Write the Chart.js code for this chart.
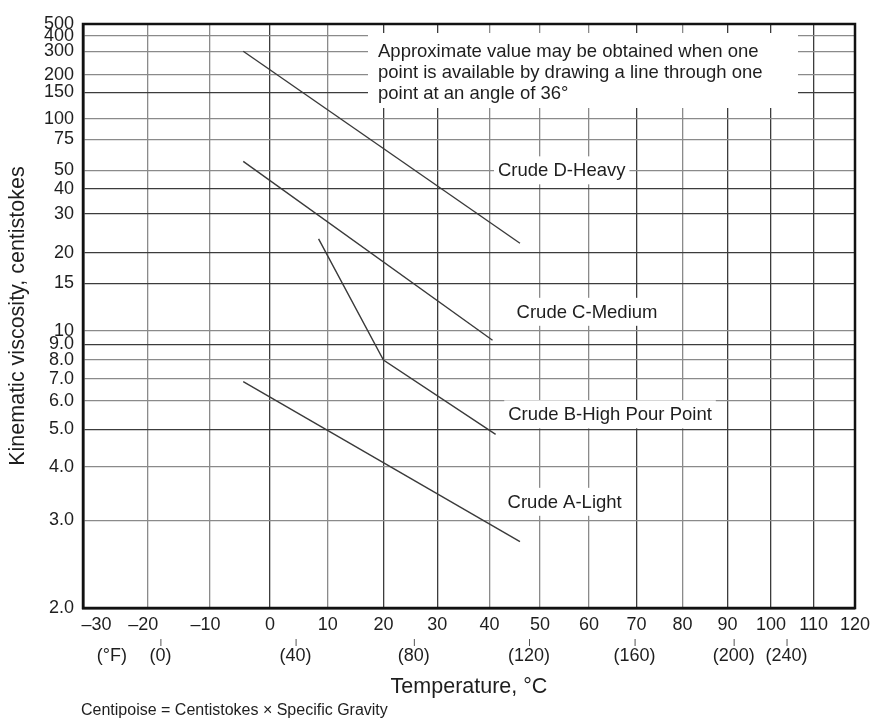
<!DOCTYPE html>
<html>
<head>
<meta charset="utf-8">
<title>Viscosity vs temperature</title>
<script src="https://cdn.jsdelivr.net/npm/chart.js@4/dist/chart.umd.min.js"></script>
<style>
  html, body { margin: 0; padding: 0; background: #fff; }
  canvas { display: block; }
</style>
</head>
<body>
<canvas id="myChart" width="871" height="720"></canvas>
<script>
// axis ticks (deg C on x, centistokes on y)
const tempTicks = [-30, -20, -10, 0, 10, 20, 30, 40, 50, 60, 70, 80, 90, 100, 110, 120];
const tempTickLabels = ['\u201330', '\u201320', '\u201310', '0', '10', '20', '30', '40', '50', '60', '70', '80', '90', '100', '110', '120'];
const viscTicks = [2, 3, 4, 5, 6, 7, 8, 9, 10, 15, 20, 30, 40, 50, 75, 100, 150, 200, 300, 400, 500];
const viscTickLabels = ['2.0', '3.0', '4.0', '5.0', '6.0', '7.0', '8.0', '9.0', '10', '15', '20', '30', '40', '50', '75', '100', '150', '200', '300', '400', '500'];

// secondary fahrenheit row, placed at the deg C spots they sit on in the chart
const fahrenheitLabels = ['(\u00b0F)', '(0)', '(40)', '(80)', '(120)', '(160)', '(200)', '(240)'];
const fahrenheitAtC = [-25.6, -18, 4.4, 25.6, 47.8, 69.6, 91.4, 103.6];

// crude oil curves: temperature (deg C) and kinematic viscosity (cSt)
const crudeDTemp = [-4.5, 46];
const crudeDVisc = [300, 22];
const crudeCTemp = [-4.5, 40.6];
const crudeCVisc = [56, 9.3];
const crudeBTemp = [8.4, 20, 41.2];
const crudeBVisc = [23, 8.0, 4.85];
const crudeATemp = [-4.5, 46];
const crudeAVisc = [6.85, 2.7];

// curve labels and where they sit (deg C, cSt)
const crudeLabels = ['Crude D-Heavy', 'Crude C-Medium', 'Crude B-High Pour Point', 'Crude A-Light'];
const labelTemp = [54.4, 59.6, 64.4, 55];
const labelVisc = [50, 11.7, 5.5, 3.3];

const noteLines = [
  'Approximate value may be obtained when one',
  'point is available by drawing a line through one',
  'point at an angle of 36\u00b0'
];

// ASTM style axes: log of absolute temperature, log-log of viscosity
const tx = t => Math.log10(t + 273.15);
const ty = v => Math.log10(Math.log10(v + 0.7));

const FONT = '"Liberation Sans", Arial, Helvetica, sans-serif';
const INK = '#1e1e1e';
const EN = '\u2002';

// minus signs hang left of the grid line, first label starts at the frame
const xLabel = (i) => {
  const t = tempTicks[i], txt = tempTickLabels[i];
  if (i === 0) return EN + EN + EN + txt;
  return t < 0 ? txt + EN : txt;
};

const toPoints = (temps, viscs) => temps.map((t, i) => ({ x: tx(t), y: ty(viscs[i]) }));

const lineStyle = {
  showLine: true,
  borderColor: '#3a3a3a',
  borderWidth: 1.4,
  pointRadius: 0,
  tension: 0,
  fill: false
};

const data = {
  datasets: [
    { label: crudeLabels[0], data: toPoints(crudeDTemp, crudeDVisc), ...lineStyle },
    { label: crudeLabels[1], data: toPoints(crudeCTemp, crudeCVisc), ...lineStyle },
    { label: crudeLabels[2], data: toPoints(crudeBTemp, crudeBVisc), ...lineStyle },
    { label: crudeLabels[3], data: toPoints(crudeATemp, crudeAVisc), ...lineStyle }
  ]
};

const darkX = [0, 20, 30, 70, 90, 100, 110];
const darkY = [5, 9, 15, 20, 30, 40, 150];

// white boxed labels, note, frame, fahrenheit row and footnote
const annotations = {
  id: 'annotations',
  beforeDatasetsDraw(chart) {
    const { ctx, chartArea: { left, top }, scales: { x, y } } = chart;
    ctx.save();

    // note box
    const nx = left + 285, ny = top + 9;
    ctx.fillStyle = '#fff';
    ctx.fillRect(nx, ny, 430, 75);
    ctx.fillStyle = INK;
    ctx.font = '18.5px ' + FONT;
    ctx.textAlign = 'left';
    ctx.textBaseline = 'middle';
    noteLines.forEach((line, i) => ctx.fillText(line, nx + 10, ny + 19 + i * 21));

    // curve labels
    ctx.textAlign = 'center';
    crudeLabels.forEach((txt, i) => {
      const px = x.getPixelForValue(tx(labelTemp[i]));
      const py = y.getPixelForValue(ty(labelVisc[i]));
      const w = ctx.measureText(txt).width;
      ctx.fillStyle = '#fff';
      ctx.fillRect(px - w / 2 - 4, py - 14, w + 8, 28);
      ctx.fillStyle = INK;
      ctx.fillText(txt, px, py + 1);
    });
    ctx.restore();
  },
  afterDraw(chart) {
    const { ctx, chartArea: { left, top, right, bottom }, scales: { x } } = chart;
    ctx.save();
    ctx.strokeStyle = '#111';
    ctx.lineWidth = 2.5;
    ctx.strokeRect(left, top, right - left, bottom - top);

    // fahrenheit row
    ctx.font = '18px ' + FONT;
    ctx.textAlign = 'center';
    ctx.textBaseline = 'middle';
    ctx.fillStyle = INK;
    ctx.strokeStyle = '#555';
    ctx.lineWidth = 1;
    fahrenheitLabels.forEach((txt, i) => {
      const px = x.getPixelForValue(tx(fahrenheitAtC[i]));
      ctx.fillText(txt, px, 656);
      if (i > 0) {
        ctx.beginPath();
        ctx.moveTo(px + 0.5, 639);
        ctx.lineTo(px + 0.5, 646);
        ctx.stroke();
      }
    });

    // footnote
    ctx.font = '16px ' + FONT;
    ctx.textAlign = 'left';
    ctx.fillText('Centipoise = Centistokes \u00d7 Specific Gravity', 81, 711);
    ctx.restore();
  }
};

const config = {
  type: 'scatter',
  data,
  options: {
    responsive: false,
    animation: false,
    layout: { padding: { top: 24, right: 16, bottom: 0, left: 0 } },
    plugins: {
      legend: { display: false },
      tooltip: { enabled: false }
    },
    scales: {
      x: {
        type: 'linear',
        position: 'bottom',
        min: tx(-30),
        max: tx(120),
        afterBuildTicks: axis => { axis.ticks = tempTicks.map(t => ({ value: tx(t) })); },
        afterFit: axis => {
          axis.height = 112;
          axis.paddingLeft = 0;
          axis.paddingRight = 0;
        },
        ticks: {
          autoSkip: false,
          maxRotation: 0,
          padding: 6,
          color: INK,
          font: { family: FONT, size: 18 },
          callback: (value, index) => xLabel(index)
        },
        grid: {
          drawTicks: false,
          lineWidth: 1.3,
          color: c => darkX.includes(tempTicks[c.index]) ? '#3c3c3c' : '#8a8a8a'
        },
        border: { display: true, color: '#111', width: 2.5 },
        title: {
          display: true,
          text: 'Temperature, \u00b0C',
          color: INK,
          font: { family: FONT, size: 21.5 },
          padding: { top: 0, bottom: 20 }
        }
      },
      y: {
        type: 'linear',
        min: ty(2),
        max: ty(500),
        afterBuildTicks: axis => { axis.ticks = viscTicks.map(v => ({ value: ty(v) })); },
        afterFit: axis => {
          axis.width = 83;
          axis.paddingTop = 0;
          axis.paddingBottom = 0;
        },
        ticks: {
          autoSkip: false,
          padding: 9,
          color: INK,
          font: { family: FONT, size: 18 },
          callback: (value, index) => viscTickLabels[index]
        },
        grid: {
          drawTicks: false,
          lineWidth: 1.3,
          color: c => darkY.includes(viscTicks[c.index]) ? '#3c3c3c' : '#8a8a8a'
        },
        border: { display: true, color: '#111', width: 2.5 },
        title: {
          display: true,
          text: 'Kinematic viscosity, centistokes',
          color: INK,
          font: { family: FONT, size: 21.5 },
          padding: { top: 5, bottom: 0 }
        }
      }
    }
  },
  plugins: [annotations]
};

const myChart = new Chart(document.getElementById('myChart'), config);
</script>
</body>
</html>
